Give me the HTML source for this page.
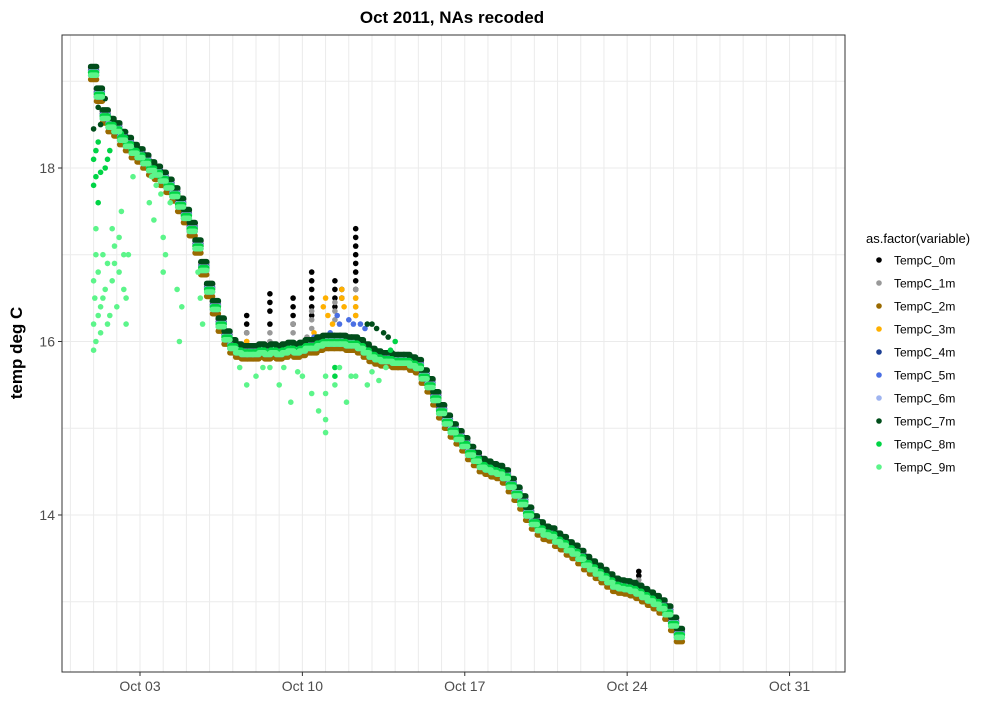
<!DOCTYPE html>
<html><head><meta charset="utf-8">
<style>
body{margin:0;background:#fff;}
svg text{font-family:"Liberation Sans",Arial,sans-serif;}
</style></head>
<body>
<svg id="chart" width="1000" height="700" viewBox="0 0 1000 700" xmlns="http://www.w3.org/2000/svg">
<rect width="1000" height="700" fill="#fff"/>
<text x="452" y="23" text-anchor="middle" font-size="17" font-weight="bold">Oct 2011, NAs recoded</text>
<g id="grid"></g>
<g id="marks"></g>
<rect x="62" y="35" width="783" height="637" fill="none" stroke="#333" stroke-width="1"/>
<g id="axes"></g>
<text transform="translate(22,353) rotate(-90)" text-anchor="middle" font-size="17" font-weight="bold">temp deg C</text>
<g id="legend"></g>
</svg>
<script>
// ---- data ----
const startDay = 1;
const stepDays = 0.25;
const baseTemp = [19.1,18.85,18.6,18.5,18.45,18.35,18.28,18.2,18.15,18.08,18.0,17.95,17.88,17.8,17.7,17.58,17.45,17.3,17.1,16.85,16.6,16.4,16.2,16.05,15.95,15.9,15.88,15.88,15.88,15.9,15.88,15.9,15.88,15.9,15.92,15.9,15.92,15.95,15.95,15.98,16.0,16.0,16.0,16.0,15.98,15.98,15.95,15.9,15.85,15.82,15.8,15.8,15.78,15.78,15.78,15.75,15.72,15.6,15.5,15.35,15.2,15.08,14.98,14.9,14.82,14.72,14.65,14.58,14.55,14.52,14.5,14.45,14.35,14.25,14.15,14.02,13.92,13.85,13.8,13.78,13.72,13.68,13.62,13.58,13.52,13.45,13.4,13.35,13.3,13.25,13.2,13.18,13.17,13.15,13.12,13.08,13.04,13.0,12.95,12.88,12.75,12.62];
const seriesNames = ["TempC_0m","TempC_1m","TempC_2m","TempC_3m","TempC_4m","TempC_5m","TempC_6m","TempC_7m","TempC_8m","TempC_9m"];
const seriesColors = ["#000000","#999999","#9a6a00","#ffb000","#1c3f94","#4a6fe3","#9fb4f0","#004d1a","#00d445","#5cf58a"];
const seriesOffsets = [0.06,0.03,-0.08,0.0,0.02,-0.03,0.01,0.07,0.0,-0.03];
const spike0m = [[7.6,16.3],[7.6,16.2],[7.6,16.1],[8.6,16.55],[8.6,16.45],[8.6,16.35],[8.6,16.2],[9.6,16.5],[9.6,16.4],[9.6,16.3],[9.6,16.2],[10.4,16.8],[10.4,16.7],[10.4,16.6],[10.4,16.5],[10.4,16.4],[10.4,16.3],[11.4,16.7],[11.4,16.6],[11.4,16.5],[11.4,16.4],[12.3,17.3],[12.3,17.2],[12.3,17.1],[12.3,17.0],[12.3,16.9],[12.3,16.8],[12.3,16.7],[12.3,16.6],[11.7,16.6],[11.7,16.5],[24.5,13.35],[24.5,13.3]];
const spike1m = [[7.6,16.1],[7.6,16.0],[8.6,16.1],[8.6,16.0],[9.6,16.2],[9.6,16.1],[10.4,16.35],[10.4,16.25],[10.4,16.15],[10.2,16.05],[11.4,16.45],[11.4,16.35],[11.4,16.25],[12.3,16.6],[12.3,16.5],[12.3,16.4],[12.3,16.3],[24.5,13.25]];
const spike3m = [[7.6,16.0],[10.9,16.4],[11.0,16.5],[11.1,16.3],[11.7,16.6],[11.7,16.5],[11.8,16.4],[12.3,16.5],[12.3,16.4],[12.3,16.3],[10.5,16.1],[10.6,16.0],[11.3,16.2]];
const spike5m = [[11.5,16.3],[11.6,16.2],[12.0,16.25],[12.2,16.2],[12.5,16.2],[12.7,16.15],[11.2,16.1],[10.5,16.05]];
const spike7m = [[12.8,16.2],[13.0,16.2],[13.2,16.15],[13.5,16.1],[13.7,16.05],[1.0,18.45],[1.3,18.5],[1.6,18.6],[1.2,18.7],[1.5,18.8]];
const spike8m = [[1.0,18.1],[1.1,17.9],[1.2,18.3],[1.5,18.0],[1.7,18.2],[1.0,17.8],[1.2,17.6],[1.1,18.2],[1.3,17.95],[1.6,18.1],[2.2,18.4],[13.8,15.9],[14.0,16.0],[11.4,15.7],[11.4,15.6],[13.3,15.8]];
const low9m = [[1.0,15.9],[1.0,16.2],[1.05,16.5],[1.1,17.0],[1.1,17.3],[1.2,16.8],[1.3,16.4],[1.4,17.0],[1.5,16.6],[1.6,16.9],[1.8,16.7],[1.9,17.1],[2.0,16.4],[2.1,16.8],[2.2,17.5],[2.3,16.6],[2.5,17.0],[1.3,16.1],[1.7,16.3],[2.4,16.2],[1.0,16.7],[1.1,16.0],[1.4,16.5],[1.6,16.2],[1.9,16.9],[2.1,17.2],[2.3,17.0],[2.4,16.5],[1.2,16.3],[1.8,17.3],[2.7,17.9],[3.4,17.6],[3.6,17.4],[3.7,17.8],[3.5,17.9],[3.9,17.7],[4.0,17.2],[4.3,17.6],[4.0,16.8],[4.1,17.0],[4.6,16.6],[4.7,16.0],[4.8,16.4],[5.6,16.5],[5.7,16.2],[5.5,16.8],[7.3,15.7],[7.6,15.5],[8.0,15.6],[8.3,15.7],[8.6,15.7],[9.0,15.5],[9.2,15.7],[9.5,15.3],[9.8,15.65],[10.0,15.6],[10.4,15.4],[10.7,15.2],[11.0,14.95],[11.0,15.4],[11.0,15.1],[11.0,15.6],[11.4,15.5],[11.6,15.7],[11.9,15.3],[12.1,15.6],[12.3,15.6],[12.8,15.5],[13.0,15.65],[13.3,15.55],[13.6,15.7]];
const xTickDays = [3,10,17,24,31];
const xTickLabels = ["Oct 03","Oct 10","Oct 17","Oct 24","Oct 31"];
const yTicks = [14,16,18];

// ---- scales ----
const X0=62,X1=845,Y0=35,Y1=672;
const xMin=-0.362, xMax=33.39, yMin=12.19, yMax=19.533;
const xs = d => X0 + (d - xMin) / (xMax - xMin) * (X1 - X0);
const ys = v => Y1 - (v - yMin) / (yMax - yMin) * (Y1 - Y0);
const NS="http://www.w3.org/2000/svg";
function mk(tag, attrs, parent){const e=document.createElementNS(NS,tag);for(const k in attrs)e.setAttribute(k,attrs[k]);parent.appendChild(e);return e;}

// grid
const grid=document.getElementById('grid');
for(let d=0; d<=33; d++){
  const l=mk('line',{x1:xs(d),x2:xs(d),y1:Y0,y2:Y1,stroke:'#ebebeb','stroke-width':1},grid);
  
  
}
for(let v=13; v<=19; v+=1){
  const l=mk('line',{x1:X0,x2:X1,y1:ys(v),y2:ys(v),stroke:'#ebebeb','stroke-width':1},grid);
  
  
}

// marks: each reading covers a 0.25-day interval -> drawn as a horizontal run of dots (capsule)
const marks=document.getElementById('marks');
const R=2.8;
function run(d,v,color,name){
  const xa=xs(d-stepDays/2), xb=xs(d+stepDays/2);
  const r=mk('rect',{x:(xa-R).toFixed(1),y:(ys(v)-R).toFixed(1),width:(xb-xa+2*R).toFixed(1),height:2*R,rx:R,fill:color},marks);
  
  
}
function dot(d,v,color,name){
  const c=mk('circle',{cx:xs(d).toFixed(1),cy:ys(v).toFixed(1),r:R,fill:color},marks);
  
  
}
const extras = {0:spike0m,1:spike1m,3:spike3m,5:spike5m,7:spike7m,8:spike8m,9:low9m};
for(let s=0;s<seriesNames.length;s++){
  for(let i=0;i<baseTemp.length;i++){
    run(startDay+i*stepDays, baseTemp[i]+seriesOffsets[s], seriesColors[s], 'point-'+seriesNames[s]);
  }
  if(extras[s]) for(const p of extras[s]) dot(p[0],p[1],seriesColors[s],'point-'+seriesNames[s]);
}

// axes
const axes=document.getElementById('axes');
xTickDays.forEach((d,i)=>{
  const t=mk('line',{x1:xs(d),x2:xs(d),y1:Y1,y2:Y1+4,stroke:'#333'},axes);
  
  
  const tx=mk('text',{x:xs(d),y:Y1+19,'text-anchor':'middle','font-size':14,fill:'#4d4d4d'},axes);
  tx.textContent=xTickLabels[i];
  
  
});
yTicks.forEach(v=>{
  const t=mk('line',{x1:X0-4,x2:X0,y1:ys(v),y2:ys(v),stroke:'#333'},axes);
  
  
  const tx=mk('text',{x:X0-7,y:ys(v)+5,'text-anchor':'end','font-size':14,fill:'#4d4d4d'},axes);
  tx.textContent=String(v);
  
  
});

// legend
const lg=document.getElementById('legend');
const lt=mk('text',{x:866,y:243,'font-size':13,fill:'#000'},lg);
lt.textContent='as.factor(variable)';


seriesNames.forEach((n,i)=>{
  const y=260+i*23;
  const c=mk('circle',{cx:879,cy:y,r:2.8,fill:seriesColors[i]},lg);
  
  
  const t=mk('text',{x:894,y:y+4.5,'font-size':12,fill:'#000'},lg);
  t.textContent=n;
  
  
});
</script>
</body></html>
